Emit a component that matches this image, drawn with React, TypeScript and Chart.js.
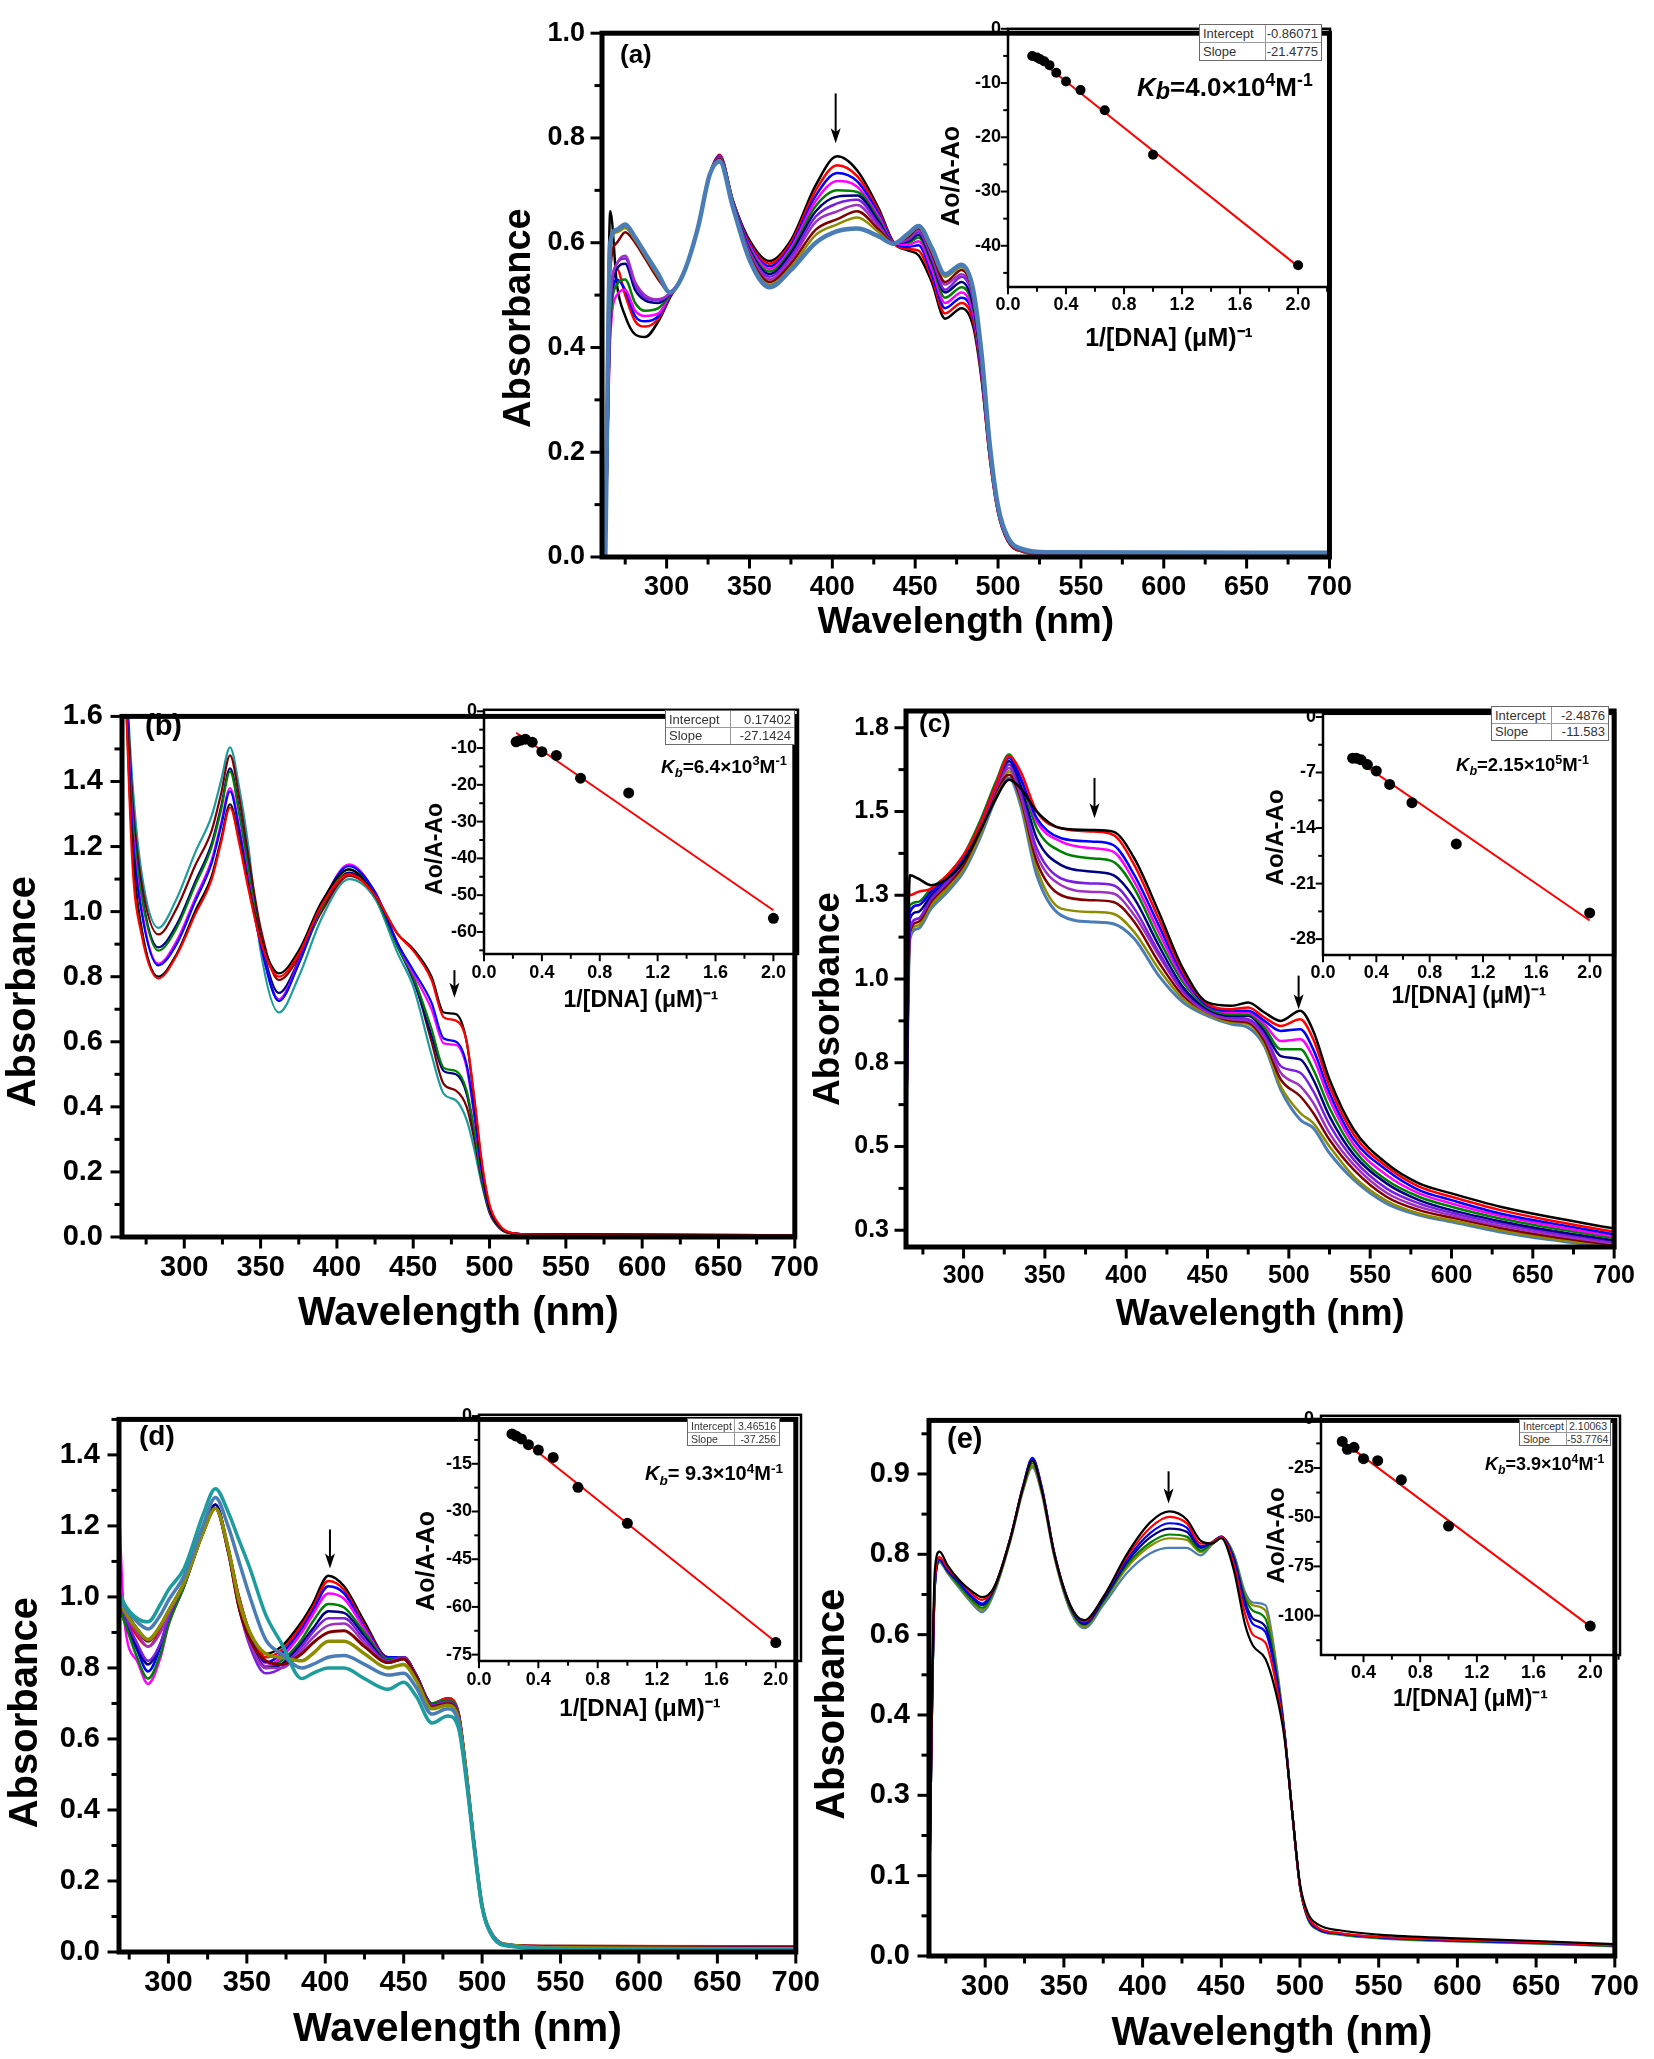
import React, { useEffect, useRef } from 'react';
import { Chart, registerables } from 'chart.js';

Chart.register(...registerables);

const FONT = "'Liberation Sans', Arial, Helvetica, sans-serif";

// ---------- colours ----------
const K_BLACK = '#000000';
const K_RED = '#ff0000';
const K_BLUE = '#0000ff';
const K_MAGENTA = '#ff00ff';
const K_GREEN = '#008000';
const K_NAVY = '#000080';
const K_VIOLET = '#7a1fe0';
const K_PURPLE = '#a030c0';
const K_WINE = '#800000';
const K_OLIVE = '#8c8c00';
const K_STEEL = '#4a7db5';
const K_TEAL = '#1c9c9c';

// ---------- shared tick definitions ----------
const WL_TICKS = [300, 350, 400, 450, 500, 550, 600, 650, 700];
const WL_LABELS = ['300', '350', '400', '450', '500', '550', '600', '650', '700'];
const ABS_TICKS_A = [0, 0.2, 0.4, 0.6, 0.8, 1.0];
const ABS_LABELS_A = ['0.0', '0.2', '0.4', '0.6', '0.8', '1.0'];
const ABS_TICKS_B = [0, 0.2, 0.4, 0.6, 0.8, 1.0, 1.2, 1.4, 1.6];
const ABS_LABELS_B = ['0.0', '0.2', '0.4', '0.6', '0.8', '1.0', '1.2', '1.4', '1.6'];
const ABS_TICKS_C = [0.25, 0.5, 0.75, 1.0, 1.25, 1.5, 1.75];
const ABS_LABELS_C = ['0.3', '0.5', '0.8', '1.0', '1.3', '1.5', '1.8'];
const ABS_TICKS_D = [0, 0.2, 0.4, 0.6, 0.8, 1.0, 1.2, 1.4];
const ABS_LABELS_D = ['0.0', '0.2', '0.4', '0.6', '0.8', '1.0', '1.2', '1.4'];
const ABS_TICKS_E = [0, 0.15, 0.3, 0.45, 0.6, 0.75, 0.9];
const ABS_LABELS_E = ['0.0', '0.1', '0.3', '0.4', '0.6', '0.8', '0.9'];

const INV_TICKS = [0, 0.4, 0.8, 1.2, 1.6, 2.0];
const INV_LABELS = ['0.0', '0.4', '0.8', '1.2', '1.6', '2.0'];
const INV_TICKS_E = [0.4, 0.8, 1.2, 1.6, 2.0];
const INV_LABELS_E = ['0.4', '0.8', '1.2', '1.6', '2.0'];
const RATIO_TICKS_A = [-40, -30, -20, -10, 0];
const RATIO_LABELS_A = ['-40', '-30', '-20', '-10', '0'];
const RATIO_TICKS_B = [-60, -50, -40, -30, -20, -10, 0];
const RATIO_LABELS_B = ['-60', '-50', '-40', '-30', '-20', '-10', '0'];
const RATIO_TICKS_C = [-28, -21, -14, -7, 0];
const RATIO_LABELS_C = ['-28', '-21', '-14', '-7', '0'];
const RATIO_TICKS_D = [-75, -60, -45, -30, -15, 0];
const RATIO_LABELS_D = ['-75', '-60', '-45', '-30', '-15', '0'];
const RATIO_TICKS_E = [-100, -75, -50, -25, 0];
const RATIO_LABELS_E = ['-100', '-75', '-50', '-25', '0'];

// ---------- panel (a) spectra ----------
const A_WL = [263, 266, 270, 275, 281, 287, 295, 302, 310, 319, 326, 332, 340, 350, 362, 375, 390, 403, 415, 428, 437, 446, 452, 460, 468, 478, 485, 490, 495, 500, 506, 515, 530, 700];
const A_BLACK = [0, 0.66, 0.52, 0.46, 0.425, 0.42, 0.45, 0.495, 0.54, 0.63, 0.73, 0.765, 0.68, 0.605, 0.565, 0.605, 0.71, 0.765, 0.738, 0.665, 0.6, 0.585, 0.576, 0.525, 0.455, 0.475, 0.44, 0.34, 0.19, 0.085, 0.03, 0.01, 0.004, 0.002];
const A_RED = [0, 0.5, 0.55, 0.5, 0.45, 0.44, 0.455, 0.497, 0.54, 0.63, 0.73, 0.768, 0.68, 0.6, 0.56, 0.6, 0.7, 0.748, 0.727, 0.66, 0.6, 0.588, 0.585, 0.532, 0.465, 0.485, 0.45, 0.345, 0.19, 0.085, 0.03, 0.01, 0.004, 0.002];
const A_BLUE = [0, 0.45, 0.53, 0.51, 0.46, 0.45, 0.46, 0.498, 0.54, 0.63, 0.73, 0.766, 0.68, 0.597, 0.555, 0.595, 0.69, 0.733, 0.717, 0.655, 0.6, 0.592, 0.595, 0.54, 0.475, 0.495, 0.46, 0.35, 0.195, 0.088, 0.032, 0.012, 0.006, 0.004];
const A_MAGENTA = [0, 0.42, 0.5, 0.51, 0.47, 0.46, 0.465, 0.5, 0.54, 0.63, 0.73, 0.765, 0.678, 0.594, 0.55, 0.59, 0.68, 0.718, 0.707, 0.65, 0.6, 0.596, 0.603, 0.55, 0.485, 0.505, 0.465, 0.355, 0.2, 0.09, 0.033, 0.012, 0.005, 0.001];
const A_GREEN = [0, 0.44, 0.52, 0.53, 0.485, 0.47, 0.475, 0.5, 0.54, 0.63, 0.73, 0.765, 0.678, 0.59, 0.545, 0.585, 0.67, 0.7, 0.697, 0.645, 0.6, 0.6, 0.61, 0.56, 0.495, 0.515, 0.475, 0.36, 0.2, 0.09, 0.033, 0.012, 0.006, 0.004];
const A_NAVY = [0, 0.46, 0.55, 0.56, 0.51, 0.49, 0.485, 0.502, 0.54, 0.63, 0.73, 0.763, 0.676, 0.587, 0.54, 0.58, 0.66, 0.688, 0.69, 0.64, 0.6, 0.603, 0.615, 0.565, 0.505, 0.525, 0.48, 0.365, 0.205, 0.092, 0.034, 0.013, 0.007, 0.005];
const A_VIOLET = [0, 0.47, 0.56, 0.57, 0.52, 0.495, 0.49, 0.503, 0.54, 0.63, 0.73, 0.763, 0.675, 0.584, 0.535, 0.573, 0.65, 0.675, 0.682, 0.635, 0.6, 0.606, 0.62, 0.57, 0.51, 0.535, 0.49, 0.37, 0.205, 0.092, 0.034, 0.013, 0.006, 0.004];
const A_PURPLE = [0, 0.48, 0.56, 0.575, 0.525, 0.5, 0.492, 0.504, 0.54, 0.63, 0.73, 0.76, 0.673, 0.58, 0.53, 0.567, 0.64, 0.66, 0.672, 0.63, 0.6, 0.609, 0.625, 0.575, 0.52, 0.54, 0.495, 0.375, 0.21, 0.094, 0.035, 0.013, 0.006, 0.005];
const A_WINE = [0, 0.55, 0.6, 0.62, 0.6, 0.57, 0.53, 0.505, 0.54, 0.63, 0.73, 0.76, 0.672, 0.576, 0.525, 0.56, 0.625, 0.645, 0.66, 0.625, 0.6, 0.612, 0.628, 0.58, 0.525, 0.548, 0.5, 0.38, 0.21, 0.095, 0.036, 0.014, 0.007, 0.006];
const A_OLIVE = [0, 0.6, 0.62, 0.628, 0.605, 0.575, 0.535, 0.505, 0.54, 0.63, 0.73, 0.758, 0.67, 0.572, 0.52, 0.553, 0.615, 0.635, 0.648, 0.62, 0.598, 0.615, 0.63, 0.585, 0.535, 0.553, 0.505, 0.385, 0.215, 0.097, 0.036, 0.014, 0.008, 0.007];
const A_STEEL = [0, 0.6, 0.625, 0.635, 0.61, 0.58, 0.54, 0.505, 0.54, 0.63, 0.73, 0.755, 0.668, 0.568, 0.515, 0.548, 0.6, 0.622, 0.627, 0.612, 0.598, 0.618, 0.632, 0.59, 0.54, 0.558, 0.51, 0.39, 0.215, 0.097, 0.037, 0.015, 0.009, 0.008];

// ---------- panel (b) spectra ----------
const B_WL = [261, 266, 272, 283, 295, 307, 318, 324, 330, 336, 342, 350, 362, 375, 390, 408, 425, 440, 450, 462, 470, 478, 485, 490, 495, 500, 506, 512, 525, 700];
const B_BLACK = [1.75, 1.2, 0.95, 0.8, 0.87, 1.0, 1.11, 1.22, 1.33, 1.22, 1.08, 0.92, 0.81, 0.88, 1.03, 1.13, 1.05, 0.93, 0.885, 0.8, 0.69, 0.685, 0.6, 0.42, 0.22, 0.09, 0.035, 0.015, 0.008, 0.005];
const B_RED = [1.75, 1.15, 0.93, 0.795, 0.865, 0.99, 1.1, 1.21, 1.32, 1.21, 1.07, 0.91, 0.8, 0.87, 1.02, 1.115, 1.05, 0.93, 0.88, 0.79, 0.675, 0.665, 0.6, 0.43, 0.23, 0.1, 0.04, 0.016, 0.008, 0.004];
const B_BLUE = [1.8, 1.25, 1.0, 0.835, 0.9, 1.03, 1.15, 1.26, 1.37, 1.25, 1.09, 0.9, 0.725, 0.84, 1.02, 1.14, 1.06, 0.9, 0.82, 0.72, 0.61, 0.6, 0.53, 0.38, 0.2, 0.085, 0.035, 0.015, 0.008, 0.005];
const B_MAGENTA = [1.8, 1.27, 1.01, 0.84, 0.91, 1.04, 1.16, 1.27, 1.38, 1.26, 1.1, 0.9, 0.73, 0.845, 1.02, 1.145, 1.06, 0.9, 0.81, 0.7, 0.595, 0.59, 0.52, 0.37, 0.2, 0.085, 0.035, 0.015, 0.008, 0.006];
const B_GREEN = [1.8, 1.3, 1.05, 0.88, 0.95, 1.08, 1.2, 1.31, 1.43, 1.3, 1.13, 0.91, 0.73, 0.84, 1.01, 1.13, 1.05, 0.89, 0.8, 0.64, 0.52, 0.51, 0.45, 0.33, 0.18, 0.08, 0.033, 0.014, 0.008, 0.006];
const B_NAVY = [1.8, 1.32, 1.06, 0.89, 0.96, 1.09, 1.21, 1.32, 1.44, 1.31, 1.14, 0.92, 0.75, 0.85, 1.01, 1.12, 1.05, 0.89, 0.79, 0.62, 0.51, 0.5, 0.44, 0.32, 0.18, 0.08, 0.033, 0.014, 0.008, 0.006];
const B_WINE = [1.8, 1.35, 1.09, 0.93, 1.01, 1.14, 1.25, 1.36, 1.48, 1.35, 1.17, 0.95, 0.79, 0.86, 1.0, 1.11, 1.05, 0.9, 0.8, 0.6, 0.47, 0.45, 0.4, 0.3, 0.17, 0.075, 0.03, 0.013, 0.008, 0.006];
const B_TEAL = [1.8, 1.4, 1.12, 0.95, 1.04, 1.18, 1.295, 1.4, 1.505, 1.38, 1.2, 0.88, 0.69, 0.8, 0.98, 1.1, 1.04, 0.87, 0.77, 0.56, 0.44, 0.42, 0.36, 0.27, 0.16, 0.075, 0.03, 0.013, 0.008, 0.006];

// ---------- panel (c) spectra ----------
const C_WL = [264, 267, 272, 280, 290, 300, 310, 320, 328, 335, 345, 360, 380, 392, 405, 420, 435, 450, 465, 475, 485, 495, 507, 515, 525, 540, 560, 580, 600, 630, 660, 700];
const C_BLACK = [0.3, 1.31, 1.3, 1.28, 1.3, 1.35, 1.44, 1.54, 1.595, 1.57, 1.5, 1.45, 1.445, 1.44, 1.36, 1.2, 1.03, 0.93, 0.92, 0.93, 0.9, 0.875, 0.905, 0.845, 0.7, 0.55, 0.45, 0.39, 0.36, 0.32, 0.29, 0.255];
const C_RED = [1.35, 1.25, 1.26, 1.27, 1.31, 1.37, 1.46, 1.58, 1.665, 1.62, 1.5, 1.45, 1.44, 1.43, 1.34, 1.18, 1.02, 0.925, 0.91, 0.915, 0.885, 0.86, 0.88, 0.82, 0.68, 0.535, 0.44, 0.38, 0.35, 0.31, 0.28, 0.245];
const C_BLUE = [0.3, 1.2, 1.22, 1.26, 1.3, 1.36, 1.46, 1.58, 1.66, 1.6, 1.48, 1.42, 1.41, 1.4, 1.31, 1.16, 1.01, 0.92, 0.905, 0.905, 0.875, 0.845, 0.85, 0.79, 0.66, 0.52, 0.43, 0.37, 0.34, 0.3, 0.272, 0.238];
const C_MAGENTA = [0.3, 1.2, 1.22, 1.26, 1.3, 1.36, 1.46, 1.58, 1.665, 1.6, 1.47, 1.41, 1.39, 1.38, 1.29, 1.14, 1.0, 0.92, 0.9, 0.9, 0.865, 0.815, 0.82, 0.765, 0.64, 0.505, 0.415, 0.36, 0.33, 0.293, 0.265, 0.232];
const C_GREEN = [0.3, 1.22, 1.23, 1.27, 1.31, 1.37, 1.47, 1.59, 1.67, 1.6, 1.45, 1.38, 1.36, 1.35, 1.27, 1.12, 0.99, 0.915, 0.895, 0.895, 0.855, 0.79, 0.79, 0.73, 0.615, 0.49, 0.4, 0.35, 0.32, 0.285, 0.258, 0.226];
const C_NAVY = [0.3, 1.18, 1.2, 1.25, 1.3, 1.36, 1.46, 1.58, 1.65, 1.58, 1.42, 1.34, 1.32, 1.31, 1.24, 1.1, 0.975, 0.91, 0.89, 0.89, 0.845, 0.77, 0.76, 0.7, 0.59, 0.475, 0.39, 0.34, 0.31, 0.277, 0.25, 0.22];
const C_VIOLET = [0.3, 1.15, 1.18, 1.24, 1.29, 1.35, 1.45, 1.57, 1.64, 1.56, 1.39, 1.3, 1.285, 1.28, 1.21, 1.08, 0.965, 0.905, 0.885, 0.88, 0.835, 0.74, 0.72, 0.665, 0.565, 0.46, 0.375, 0.33, 0.302, 0.27, 0.244, 0.215];
const C_PURPLE = [0.3, 1.15, 1.18, 1.24, 1.29, 1.35, 1.45, 1.57, 1.63, 1.55, 1.37, 1.28, 1.26, 1.255, 1.19, 1.07, 0.96, 0.9, 0.88, 0.875, 0.825, 0.72, 0.68, 0.63, 0.54, 0.445, 0.362, 0.32, 0.295, 0.263, 0.238, 0.21];
const C_WINE = [0.3, 1.14, 1.17, 1.23, 1.28, 1.34, 1.44, 1.56, 1.61, 1.54, 1.35, 1.25, 1.235, 1.23, 1.17, 1.05, 0.95, 0.9, 0.875, 0.87, 0.815, 0.7, 0.65, 0.6, 0.52, 0.43, 0.35, 0.31, 0.288, 0.257, 0.232, 0.206];
const C_OLIVE = [0.3, 1.13, 1.16, 1.22, 1.27, 1.33, 1.43, 1.55, 1.62, 1.53, 1.33, 1.21, 1.2, 1.195, 1.14, 1.03, 0.94, 0.895, 0.87, 0.865, 0.805, 0.68, 0.6, 0.57, 0.5, 0.41, 0.338, 0.3, 0.28, 0.25, 0.226, 0.202];
const C_STEEL = [0.3, 1.12, 1.15, 1.21, 1.26, 1.32, 1.42, 1.54, 1.6, 1.52, 1.31, 1.19, 1.17, 1.165, 1.12, 1.01, 0.93, 0.89, 0.865, 0.855, 0.8, 0.67, 0.58, 0.555, 0.48, 0.4, 0.33, 0.295, 0.275, 0.245, 0.222, 0.198];

// ---------- panel (d) spectra ----------
const D_WL = [268, 272, 280, 287, 295, 300, 310, 322, 330, 338, 345, 352, 362, 372, 385, 392, 402, 412, 425, 440, 450, 458, 468, 478, 485, 490, 495, 500, 507, 518, 550, 700];
const D_BLACK = [1.02, 0.97, 0.91, 0.88, 0.92, 0.96, 1.04, 1.18, 1.25, 1.14, 1.0, 0.9, 0.84, 0.86, 0.93, 0.98, 1.06, 1.03, 0.93, 0.83, 0.83, 0.78, 0.7, 0.715, 0.67, 0.5, 0.3, 0.13, 0.045, 0.02, 0.017, 0.015];
const D_RED = [1.0, 0.95, 0.89, 0.86, 0.91, 0.96, 1.04, 1.18, 1.25, 1.14, 1.0, 0.9, 0.83, 0.85, 0.92, 0.97, 1.045, 1.02, 0.92, 0.83, 0.83, 0.78, 0.7, 0.715, 0.675, 0.51, 0.3, 0.13, 0.045, 0.02, 0.017, 0.016];
const D_BLUE = [0.98, 0.93, 0.85, 0.79, 0.86, 0.93, 1.03, 1.18, 1.26, 1.14, 0.99, 0.89, 0.815, 0.84, 0.91, 0.96, 1.03, 1.01, 0.915, 0.83, 0.83, 0.78, 0.7, 0.71, 0.67, 0.5, 0.3, 0.13, 0.045, 0.02, 0.015, 0.012];
const D_MAGENTA = [1.3, 0.93, 0.82, 0.755, 0.83, 0.92, 1.03, 1.18, 1.25, 1.13, 0.98, 0.88, 0.805, 0.83, 0.9, 0.95, 1.01, 0.995, 0.91, 0.825, 0.83, 0.78, 0.7, 0.71, 0.67, 0.5, 0.3, 0.13, 0.045, 0.02, 0.014, 0.01];
const D_GREEN = [0.98, 0.93, 0.83, 0.77, 0.84, 0.92, 1.03, 1.18, 1.25, 1.13, 0.98, 0.88, 0.8, 0.82, 0.88, 0.93, 0.98, 0.97, 0.9, 0.825, 0.83, 0.78, 0.7, 0.71, 0.67, 0.5, 0.3, 0.13, 0.045, 0.02, 0.013, 0.009];
const D_NAVY = [1.0, 0.95, 0.86, 0.81, 0.87, 0.94, 1.04, 1.18, 1.26, 1.14, 0.99, 0.88, 0.8, 0.81, 0.87, 0.91, 0.96, 0.955, 0.89, 0.82, 0.83, 0.78, 0.695, 0.705, 0.665, 0.5, 0.3, 0.13, 0.045, 0.02, 0.012, 0.008];
const D_VIOLET = [1.0, 0.95, 0.87, 0.82, 0.87, 0.94, 1.04, 1.18, 1.25, 1.13, 0.97, 0.86, 0.785, 0.8, 0.86, 0.9, 0.94, 0.94, 0.88, 0.82, 0.83, 0.78, 0.695, 0.705, 0.665, 0.5, 0.3, 0.13, 0.045, 0.02, 0.012, 0.008];
const D_PURPLE = [1.0, 0.96, 0.9, 0.86, 0.9, 0.95, 1.04, 1.18, 1.25, 1.13, 0.97, 0.87, 0.8, 0.8, 0.85, 0.885, 0.92, 0.925, 0.87, 0.815, 0.825, 0.775, 0.69, 0.7, 0.66, 0.5, 0.3, 0.13, 0.045, 0.02, 0.012, 0.008];
const D_WINE = [1.0, 0.96, 0.91, 0.875, 0.92, 0.96, 1.04, 1.18, 1.25, 1.13, 0.97, 0.88, 0.82, 0.81, 0.84, 0.87, 0.9, 0.905, 0.86, 0.815, 0.825, 0.775, 0.69, 0.7, 0.66, 0.5, 0.3, 0.13, 0.045, 0.02, 0.014, 0.012];
const D_OLIVE = [1.0, 0.96, 0.91, 0.88, 0.92, 0.96, 1.04, 1.18, 1.25, 1.14, 0.99, 0.9, 0.84, 0.83, 0.82, 0.84, 0.875, 0.875, 0.84, 0.8, 0.81, 0.765, 0.685, 0.695, 0.655, 0.5, 0.3, 0.13, 0.045, 0.02, 0.012, 0.009];
const D_STEEL = [1.0, 0.97, 0.93, 0.91, 0.95, 0.99, 1.06, 1.2, 1.28, 1.2, 1.1, 1.0, 0.88, 0.84, 0.8, 0.81, 0.83, 0.835, 0.81, 0.78, 0.785, 0.745, 0.67, 0.685, 0.645, 0.49, 0.3, 0.13, 0.045, 0.018, 0.01, 0.006];
const D_TEAL = [1.02, 0.98, 0.94, 0.93, 0.98, 1.02, 1.08, 1.23, 1.305, 1.24, 1.16, 1.08, 0.95, 0.87, 0.77, 0.785, 0.8, 0.8, 0.77, 0.74, 0.76, 0.72, 0.645, 0.665, 0.63, 0.48, 0.29, 0.125, 0.04, 0.016, 0.008, 0.005];

// ---------- panel (e) spectra ----------
const E_WL = [264, 266, 268, 271, 276, 284, 292, 298, 306, 316, 324, 330, 336, 344, 354, 363, 375, 390, 405, 417, 428, 437, 444, 450, 458, 465, 470, 478, 484, 490, 495, 500, 505, 512, 525, 550, 600, 650, 700];
const E_BLACK = [0, 0.45, 0.72, 0.755, 0.73, 0.7, 0.68, 0.67, 0.69, 0.78, 0.875, 0.925, 0.87, 0.75, 0.655, 0.627, 0.67, 0.75, 0.81, 0.83, 0.815, 0.775, 0.77, 0.78, 0.72, 0.62, 0.58, 0.555, 0.5, 0.41, 0.27, 0.135, 0.08, 0.058, 0.048, 0.04, 0.033, 0.028, 0.022];
const E_RED = [0, 0.43, 0.7, 0.745, 0.725, 0.7, 0.675, 0.665, 0.69, 0.78, 0.875, 0.925, 0.87, 0.75, 0.655, 0.625, 0.67, 0.745, 0.8, 0.82, 0.808, 0.77, 0.772, 0.782, 0.73, 0.64, 0.6, 0.585, 0.52, 0.415, 0.27, 0.13, 0.075, 0.052, 0.043, 0.036, 0.03, 0.026, 0.02];
const E_BLUE = [0, 0.42, 0.69, 0.74, 0.72, 0.695, 0.67, 0.658, 0.69, 0.78, 0.877, 0.93, 0.875, 0.752, 0.655, 0.622, 0.668, 0.74, 0.79, 0.808, 0.8, 0.765, 0.772, 0.783, 0.738, 0.655, 0.62, 0.605, 0.535, 0.42, 0.27, 0.13, 0.072, 0.05, 0.042, 0.035, 0.029, 0.025, 0.02];
const E_NAVY = [0, 0.42, 0.69, 0.74, 0.72, 0.695, 0.668, 0.655, 0.688, 0.78, 0.876, 0.928, 0.873, 0.75, 0.653, 0.62, 0.665, 0.735, 0.782, 0.798, 0.792, 0.762, 0.772, 0.783, 0.742, 0.662, 0.63, 0.615, 0.54, 0.42, 0.27, 0.13, 0.072, 0.05, 0.042, 0.035, 0.029, 0.025, 0.02];
const E_GREEN = [0, 0.42, 0.69, 0.738, 0.718, 0.69, 0.663, 0.65, 0.685, 0.778, 0.872, 0.92, 0.868, 0.748, 0.65, 0.618, 0.662, 0.73, 0.772, 0.787, 0.783, 0.757, 0.77, 0.782, 0.745, 0.67, 0.645, 0.63, 0.55, 0.42, 0.27, 0.13, 0.07, 0.049, 0.041, 0.034, 0.028, 0.024, 0.019];
const E_OLIVE = [0, 0.42, 0.69, 0.737, 0.717, 0.688, 0.66, 0.646, 0.683, 0.776, 0.87, 0.915, 0.865, 0.746, 0.648, 0.615, 0.66, 0.725, 0.766, 0.78, 0.777, 0.754, 0.769, 0.782, 0.748, 0.675, 0.655, 0.645, 0.56, 0.42, 0.27, 0.13, 0.07, 0.049, 0.041, 0.034, 0.028, 0.024, 0.019];
const E_STEEL = [0, 0.42, 0.69, 0.735, 0.715, 0.685, 0.657, 0.642, 0.68, 0.775, 0.868, 0.912, 0.862, 0.744, 0.645, 0.612, 0.655, 0.715, 0.752, 0.762, 0.762, 0.748, 0.768, 0.782, 0.75, 0.68, 0.66, 0.655, 0.565, 0.425, 0.27, 0.13, 0.07, 0.048, 0.04, 0.033, 0.027, 0.023, 0.018];

// ---------- arrows (data coordinates) ----------
const A_ARROWS = [{ x: 402, y1: 0.885, y2: 0.79 }];
const B_ARROWS = [{ x: 477, y1: 0.82, y2: 0.735 }];
const C_ARROWS = [{ x: 380.5, y1: 1.6, y2: 1.48 }, { x: 506, y1: 1.01, y2: 0.91 }];
const D_ARROWS = [{ x: 403, y1: 1.19, y2: 1.08 }];
const E_ARROWS = [{ x: 416.5, y1: 0.905, y2: 0.845 }];

// ---------- inset data: 1/[DNA] vs Ao/(A-Ao) ----------
const A_INV = [0.167, 0.2, 0.222, 0.25, 0.286, 0.333, 0.4, 0.5, 0.667, 1.0, 2.0];
const A_RATIO = [-5.0, -5.3, -5.6, -6.0, -6.7, -8.1, -9.7, -11.3, -15.0, -23.2, -43.6];
const A_FIT_X = [0.16, 2.0];
const A_FIT_Y = [-4.6, -43.8];

const B_INV = [0.222, 0.25, 0.286, 0.333, 0.4, 0.5, 0.667, 1.0, 2.0];
const B_RATIO = [-8.3, -7.9, -7.6, -8.4, -11.0, -12.0, -18.2, -22.2, -56.3];
const B_FIT_X = [0.222, 2.0];
const B_FIT_Y = [-5.85, -54.1];

const C_INV = [0.222, 0.25, 0.286, 0.333, 0.4, 0.5, 0.667, 1.0, 2.0];
const C_RATIO = [-5.2, -5.2, -5.4, -6.0, -6.8, -8.5, -10.8, -16.0, -24.7];
const C_FIT_X = [0.222, 2.0];
const C_FIT_Y = [-5.06, -25.65];

const D_INV = [0.222, 0.25, 0.286, 0.333, 0.4, 0.5, 0.667, 1.0, 2.0];
const D_RATIO = [-5.6, -6.3, -7.2, -9.0, -10.7, -13.0, -22.4, -33.7, -71.2];
const D_FIT_X = [0.21, 2.0];
const D_FIT_Y = [-4.36, -71.05];

const E_INV = [0.25, 0.286, 0.333, 0.4, 0.5, 0.667, 1.0, 2.0];
const E_RATIO = [-11.5, -15.5, -14.5, -20.3, -21.3, -31.0, -54.5, -105.3];
const E_FIT_X = [0.25, 2.0];
const E_FIT_Y = [-11.34, -105.45];

// ---------- helpers ----------
function minorValues(min: number, max: number, step: number, majors: number[]) {
  const out: number[] = [];
  const k0 = Math.ceil(min / step - 1e-6);
  const k1 = Math.floor(max / step + 1e-6);
  for (let k = k0; k <= k1; k++) {
    const v = k * step;
    if (!majors.some((m) => Math.abs(m - v) < step * 0.01)) out.push(v);
  }
  return out;
}

const decorPlugin = {
  id: 'decor',
  afterDatasetsDraw(chart: any, _args: any, o: any) {
    const { ctx, chartArea: a } = chart;
    const xs = chart.scales.x;
    const ys = chart.scales.y;
    ctx.save();
    ctx.strokeStyle = '#000';
    ctx.fillStyle = '#000';
    ctx.lineCap = 'butt';
    (o.arrows || []).forEach((ar: any) => {
      const px = xs.getPixelForValue(ar.x);
      const p1 = ys.getPixelForValue(ar.y1);
      const p2 = ys.getPixelForValue(ar.y2);
      ctx.lineWidth = o.arrowWidth;
      ctx.beginPath();
      ctx.moveTo(px, p1);
      ctx.lineTo(px, p2 - o.headLen * 0.6);
      ctx.stroke();
      ctx.beginPath();
      ctx.moveTo(px, p2);
      ctx.lineTo(px - o.headW, p2 - o.headLen);
      ctx.lineTo(px, p2 - o.headLen * 0.75);
      ctx.lineTo(px + o.headW, p2 - o.headLen);
      ctx.closePath();
      ctx.fill();
    });
    const half = o.frameWidth / 2;
    ctx.lineWidth = o.tickWidth;
    const xt = (v: number, len: number) => {
      const p = xs.getPixelForValue(v);
      ctx.beginPath();
      ctx.moveTo(p, a.bottom);
      ctx.lineTo(p, a.bottom + half + len);
      ctx.stroke();
    };
    const yt = (v: number, len: number) => {
      const p = ys.getPixelForValue(v);
      ctx.beginPath();
      ctx.moveTo(a.left, p);
      ctx.lineTo(a.left - half - len, p);
      ctx.stroke();
    };
    o.xMajor.forEach((v: number) => xt(v, o.majorLen));
    minorValues(xs.min, xs.max, o.xMinorStep, o.xMajor).forEach((v) => xt(v, o.minorLen));
    o.yMajor.forEach((v: number) => yt(v, o.majorLen));
    minorValues(ys.min, ys.max, o.yMinorStep, o.yMajor).forEach((v) => yt(v, o.minorLen));
    ctx.lineWidth = o.frameWidth;
    ctx.strokeRect(a.left, a.top, a.right - a.left, a.bottom - a.top);
    if (o.yTitle) {
      ctx.save();
      ctx.translate(o.yTitleX, (a.top + a.bottom) / 2 + o.yTitleDy);
      ctx.rotate(-Math.PI / 2);
      ctx.font = `bold ${o.yTitleFont}px ${FONT}`;
      ctx.textAlign = 'center';
      ctx.textBaseline = 'middle';
      ctx.fillText(o.yTitle, 0, 0);
      ctx.restore();
    }
    ctx.restore();
  },
};

type Curve = { color: string; y: number[]; w: number };
type Arrow = { x: number; y1: number; y2: number };

type MainSpec = {
  frame: number[];
  yW: number; xH: number; padTop: number; padRight: number;
  xMin: number; xMax: number; yMin: number; yMax: number;
  yTicks: number[]; yLabels: string[]; yMinorStep: number;
  tickFont: number; xTitleFont: number; yTitleFont: number; yTitleX: number; yTitleDy: number;
  labelPadX: number; labelPadY: number;
  wl: number[]; curves: Curve[]; arrows: Arrow[];
};

type InsetSpec = {
  frame: number[];
  yW: number; xH: number; padTop: number; padRight: number;
  xMin: number; xMax: number; yMin: number; yMax: number;
  xTicks: number[]; xLabels: string[]; xMinorStep: number;
  yTicks: number[]; yLabels: string[]; yMinorStep: number;
  tickFont: number; xTitleFont: number; yTitleFont: number; yTitleX: number; yTitleDy: number;
  labelPadX: number; labelPadY: number;
  px: number[]; py: number[]; fx: number[]; fy: number[]; pointR: number;
};

function tickFontObj(size: number) {
  return { family: FONT, size, weight: 'bold' as const };
}

function MainPanel({ s }: { s: MainSpec }) {
  const ref = useRef<HTMLCanvasElement>(null);
  const [L, T, R, B] = s.frame;
  const left = L - s.yW;
  const top = T - s.padTop;
  const width = R - L + s.yW + s.padRight;
  const height = B - T + s.padTop + s.xH;
  useEffect(() => {
    const chart = new Chart(ref.current as HTMLCanvasElement, {
      type: 'line',
      data: {
        datasets: s.curves.map((c, i) => ({
          data: s.wl.map((x, k) => ({ x, y: c.y[k] })),
          borderColor: c.color,
          borderWidth: c.w,
          pointRadius: 0,
          fill: false,
          cubicInterpolationMode: 'monotone',
          order: -i,
        })),
      } as any,
      options: {
        animation: false,
        responsive: false,
        events: [],
        layout: { padding: { top: s.padTop, right: s.padRight, left: 0, bottom: 0 }, autoPadding: false },
        plugins: {
          legend: { display: false },
          tooltip: { enabled: false },
          decor: {
            arrows: s.arrows, arrowWidth: 2, headLen: 15, headW: 5,
            frameWidth: 5, tickWidth: 3, majorLen: 9, minorLen: 5,
            xMajor: WL_TICKS, xMinorStep: 25, yMajor: s.yTicks, yMinorStep: s.yMinorStep,
            yTitle: 'Absorbance', yTitleX: s.yTitleX, yTitleDy: s.yTitleDy, yTitleFont: s.yTitleFont,
          },
        } as any,
        scales: {
          x: {
            type: 'linear', min: s.xMin, max: s.xMax,
            afterBuildTicks: (sc: any) => { sc.ticks = WL_TICKS.map((v) => ({ value: v })); },
            afterFit: (sc: any) => { sc.height = s.xH; },
            ticks: { autoSkip: false, maxRotation: 0, padding: s.labelPadX, color: '#000', font: tickFontObj(s.tickFont), callback: (_v: any, i: number) => WL_LABELS[i] },
            grid: { display: false, drawTicks: false },
            border: { display: false },
            title: { display: true, text: 'Wavelength (nm)', color: '#000', padding: 0, font: { family: FONT, size: s.xTitleFont, weight: 'bold', lineHeight: 1 } },
          },
          y: {
            type: 'linear', min: s.yMin, max: s.yMax,
            afterBuildTicks: (sc: any) => { sc.ticks = s.yTicks.map((v) => ({ value: v })); },
            afterFit: (sc: any) => { sc.width = s.yW; },
            ticks: { autoSkip: false, padding: s.labelPadY, color: '#000', font: tickFontObj(s.tickFont), callback: (_v: any, i: number) => s.yLabels[i] },
            grid: { display: false, drawTicks: false },
            border: { display: false },
          },
        } as any,
      },
      plugins: [decorPlugin as any],
    });
    return () => chart.destroy();
  }, []);
  return <canvas ref={ref} width={width} height={height} style={{ position: 'absolute', left, top, width, height }} />;
}

function InsetPanel({ s }: { s: InsetSpec }) {
  const ref = useRef<HTMLCanvasElement>(null);
  const [L, T, R, B] = s.frame;
  const left = L - s.yW;
  const top = T - s.padTop;
  const width = R - L + s.yW + s.padRight;
  const height = B - T + s.padTop + s.xH;
  useEffect(() => {
    const chart = new Chart(ref.current as HTMLCanvasElement, {
      type: 'scatter',
      data: {
        datasets: [
          {
            data: s.fx.map((x, k) => ({ x, y: s.fy[k] })),
            showLine: true, borderColor: '#ff0000', borderWidth: 2, pointRadius: 0, order: 1,
          },
          {
            data: s.px.map((x, k) => ({ x, y: s.py[k] })),
            showLine: false, pointRadius: s.pointR, pointBackgroundColor: '#000', pointBorderColor: '#000', pointBorderWidth: 0, order: 0,
          },
        ],
      } as any,
      options: {
        animation: false,
        responsive: false,
        events: [],
        layout: { padding: { top: s.padTop, right: s.padRight, left: 0, bottom: 0 }, autoPadding: false },
        plugins: {
          legend: { display: false },
          tooltip: { enabled: false },
          decor: {
            arrows: [], arrowWidth: 1, headLen: 0, headW: 0,
            frameWidth: 2.5, tickWidth: 2, majorLen: 6, minorLen: 3.5,
            xMajor: s.xTicks, xMinorStep: s.xMinorStep, yMajor: s.yTicks, yMinorStep: s.yMinorStep,
            yTitle: 'Ao/A-Ao', yTitleX: s.yTitleX, yTitleDy: s.yTitleDy, yTitleFont: s.yTitleFont,
          },
        } as any,
        scales: {
          x: {
            type: 'linear', min: s.xMin, max: s.xMax,
            afterBuildTicks: (sc: any) => { sc.ticks = s.xTicks.map((v) => ({ value: v })); },
            afterFit: (sc: any) => { sc.height = s.xH; },
            ticks: { autoSkip: false, maxRotation: 0, padding: s.labelPadX, color: '#000', font: tickFontObj(s.tickFont), callback: (_v: any, i: number) => s.xLabels[i] },
            grid: { display: false, drawTicks: false },
            border: { display: false },
            title: { display: true, text: '1/[DNA] (\u03bcM)\u207b\u00b9', color: '#000', padding: 0, font: { family: FONT, size: s.xTitleFont, weight: 'bold', lineHeight: 1 } },
          },
          y: {
            type: 'linear', min: s.yMin, max: s.yMax,
            afterBuildTicks: (sc: any) => { sc.ticks = s.yTicks.map((v) => ({ value: v })); },
            afterFit: (sc: any) => { sc.width = s.yW; },
            ticks: { autoSkip: false, padding: s.labelPadY, color: '#000', font: tickFontObj(s.tickFont), callback: (_v: any, i: number) => s.yLabels[i] },
            grid: { display: false, drawTicks: false },
            border: { display: false },
          },
        } as any,
      },
      plugins: [decorPlugin as any],
    });
    return () => chart.destroy();
  }, []);
  return <canvas ref={ref} width={width} height={height} style={{ position: 'absolute', left, top, width, height }} />;
}

// ---------- panel specs ----------
const SPEC_A: MainSpec = {
  frame: [602, 17, 1336, 557], yW: 106, xH: 84, padTop: 17, padRight: 30,
  xMin: 261, xMax: 700, yMin: 0, yMax: 1.0,
  yTicks: ABS_TICKS_A, yLabels: ABS_LABELS_A, yMinorStep: 0.1,
  tickFont: 27, xTitleFont: 37, yTitleFont: 38, yTitleX: 24, yTitleDy: 23, labelPadX: 14, labelPadY: 17,
  wl: A_WL,
  curves: [
    { color: K_BLACK, y: A_BLACK, w: 2.5 }, { color: K_RED, y: A_RED, w: 2.5 }, { color: K_BLUE, y: A_BLUE, w: 2.5 },
    { color: K_MAGENTA, y: A_MAGENTA, w: 2.5 }, { color: K_GREEN, y: A_GREEN, w: 2.5 }, { color: K_NAVY, y: A_NAVY, w: 2.5 },
    { color: K_VIOLET, y: A_VIOLET, w: 2.5 }, { color: K_PURPLE, y: A_PURPLE, w: 2.5 }, { color: K_WINE, y: A_WINE, w: 2.5 },
    { color: K_OLIVE, y: A_OLIVE, w: 2.5 }, { color: K_STEEL, y: A_STEEL, w: 4.5 },
  ],
  arrows: A_ARROWS,
};

const SPEC_B: MainSpec = {
  frame: [122, 700, 803, 1237], yW: 120, xH: 97, padTop: 20, padRight: 30,
  xMin: 259.2, xMax: 700, yMin: 0, yMax: 1.6,
  yTicks: ABS_TICKS_B, yLabels: ABS_LABELS_B, yMinorStep: 0.1,
  tickFont: 29, xTitleFont: 40, yTitleFont: 40, yTitleX: 22, yTitleDy: 15, labelPadX: 14, labelPadY: 19,
  wl: B_WL,
  curves: [
    { color: K_TEAL, y: B_TEAL, w: 2.2 }, { color: K_WINE, y: B_WINE, w: 2.2 }, { color: K_NAVY, y: B_NAVY, w: 2.2 },
    { color: K_GREEN, y: B_GREEN, w: 2.2 }, { color: K_MAGENTA, y: B_MAGENTA, w: 2.2 }, { color: K_BLUE, y: B_BLUE, w: 2.2 },
    { color: K_BLACK, y: B_BLACK, w: 2.2 }, { color: K_RED, y: B_RED, w: 2.2 },
  ],
  arrows: B_ARROWS,
};

const SPEC_C: MainSpec = {
  frame: [906, 699, 1619, 1247], yW: 101, xH: 86, padTop: 20, padRight: 30,
  xMin: 264.6, xMax: 700, yMin: 0.2, yMax: 1.8,
  yTicks: ABS_TICKS_C, yLabels: ABS_LABELS_C, yMinorStep: 0.125,
  tickFont: 25, xTitleFont: 36, yTitleFont: 37, yTitleX: 24, yTitleDy: 20, labelPadX: 14, labelPadY: 17,
  wl: C_WL,
  curves: [
    { color: K_STEEL, y: C_STEEL, w: 3 }, { color: K_OLIVE, y: C_OLIVE, w: 2.5 }, { color: K_WINE, y: C_WINE, w: 2.5 },
    { color: K_PURPLE, y: C_PURPLE, w: 2.5 }, { color: K_VIOLET, y: C_VIOLET, w: 2.5 }, { color: K_NAVY, y: C_NAVY, w: 2.5 },
    { color: K_GREEN, y: C_GREEN, w: 2.5 }, { color: K_MAGENTA, y: C_MAGENTA, w: 2.5 }, { color: K_BLUE, y: C_BLUE, w: 2.5 },
    { color: K_RED, y: C_RED, w: 2.5 }, { color: K_BLACK, y: C_BLACK, w: 2.5 },
  ],
  arrows: C_ARROWS,
};

const SPEC_D: MainSpec = {
  frame: [119, 1403, 804, 1952], yW: 117, xH: 98, padTop: 20, padRight: 30,
  xMin: 268.5, xMax: 700, yMin: 0, yMax: 1.5,
  yTicks: ABS_TICKS_D, yLabels: ABS_LABELS_D, yMinorStep: 0.1,
  tickFont: 29, xTitleFont: 41, yTitleFont: 40, yTitleX: 24, yTitleDy: 27, labelPadX: 14, labelPadY: 19,
  wl: D_WL,
  curves: [
    { color: K_BLACK, y: D_BLACK, w: 2.5 }, { color: K_RED, y: D_RED, w: 2.5 }, { color: K_BLUE, y: D_BLUE, w: 2.5 },
    { color: K_MAGENTA, y: D_MAGENTA, w: 2.5 }, { color: K_GREEN, y: D_GREEN, w: 2.5 }, { color: K_NAVY, y: D_NAVY, w: 2.5 },
    { color: K_VIOLET, y: D_VIOLET, w: 2.5 }, { color: K_PURPLE, y: D_PURPLE, w: 2.5 }, { color: K_WINE, y: D_WINE, w: 3 },
    { color: K_OLIVE, y: D_OLIVE, w: 3.5 }, { color: K_STEEL, y: D_STEEL, w: 3.5 }, { color: K_TEAL, y: D_TEAL, w: 3.5 },
  ],
  arrows: D_ARROWS,
};

const SPEC_E: MainSpec = {
  frame: [929, 1404, 1625, 1956], yW: 120, xH: 98, padTop: 20, padRight: 28,
  xMin: 264.3, xMax: 700, yMin: 0, yMax: 1.0,
  yTicks: ABS_TICKS_E, yLabels: ABS_LABELS_E, yMinorStep: 0.075,
  tickFont: 29, xTitleFont: 40, yTitleFont: 40, yTitleX: 24, yTitleDy: 16, labelPadX: 14, labelPadY: 19,
  wl: E_WL,
  curves: [
    { color: K_STEEL, y: E_STEEL, w: 2.2 }, { color: K_OLIVE, y: E_OLIVE, w: 2.2 }, { color: K_GREEN, y: E_GREEN, w: 2.2 },
    { color: K_NAVY, y: E_NAVY, w: 2.2 }, { color: K_BLUE, y: E_BLUE, w: 2.2 }, { color: K_RED, y: E_RED, w: 2.2 },
    { color: K_BLACK, y: E_BLACK, w: 2.2 },
  ],
  arrows: E_ARROWS,
};

const INSET_A: InsetSpec = {
  frame: [1008, 23, 1330, 287], yW: 72, xH: 65, padTop: 12, padRight: 4,
  xMin: 0, xMax: 2.22, yMin: -47.6, yMax: 0,
  xTicks: INV_TICKS, xLabels: INV_LABELS, xMinorStep: 0.2,
  yTicks: RATIO_TICKS_A, yLabels: RATIO_LABELS_A, yMinorStep: 5,
  tickFont: 18, xTitleFont: 25, yTitleFont: 25, yTitleX: 16, yTitleDy: 18, labelPadX: 7, labelPadY: 7,
  px: A_INV, py: A_RATIO, fx: A_FIT_X, fy: A_FIT_Y, pointR: 5,
};

const INSET_B: InsetSpec = {
  frame: [484, 704, 798, 954], yW: 64, xH: 58, padTop: 12, padRight: 4,
  xMin: 0, xMax: 2.17, yMin: -66, yMax: 0.4,
  xTicks: INV_TICKS, xLabels: INV_LABELS, xMinorStep: 0.2,
  yTicks: RATIO_TICKS_B, yLabels: RATIO_LABELS_B, yMinorStep: 5,
  tickFont: 18, xTitleFont: 23, yTitleFont: 23, yTitleX: 16, yTitleDy: 17, labelPadX: 8, labelPadY: 7,
  px: B_INV, py: B_RATIO, fx: B_FIT_X, fy: B_FIT_Y, pointR: 5.5,
};

const INSET_C: InsetSpec = {
  frame: [1323, 708, 1615, 955], yW: 63, xH: 53, padTop: 12, padRight: 4,
  xMin: 0, xMax: 2.19, yMin: -30, yMax: 0.4,
  xTicks: INV_TICKS, xLabels: INV_LABELS, xMinorStep: 0.2,
  yTicks: RATIO_TICKS_C, yLabels: RATIO_LABELS_C, yMinorStep: 3.5,
  tickFont: 18, xTitleFont: 23, yTitleFont: 24, yTitleX: 16, yTitleDy: 3, labelPadX: 7, labelPadY: 7,
  px: C_INV, py: C_RATIO, fx: C_FIT_X, fy: C_FIT_Y, pointR: 5.5,
};

const INSET_D: InsetSpec = {
  frame: [479, 1409, 801, 1661], yW: 68, xH: 60, padTop: 12, padRight: 4,
  xMin: 0, xMax: 2.17, yMin: -77, yMax: 0.4,
  xTicks: INV_TICKS, xLabels: INV_LABELS, xMinorStep: 0.2,
  yTicks: RATIO_TICKS_D, yLabels: RATIO_LABELS_D, yMinorStep: 7.5,
  tickFont: 18, xTitleFont: 24, yTitleFont: 25, yTitleX: 16, yTitleDy: 23, labelPadX: 8, labelPadY: 7,
  px: D_INV, py: D_RATIO, fx: D_FIT_X, fy: D_FIT_Y, pointR: 5.5,
};

const INSET_E: InsetSpec = {
  frame: [1321, 1410, 1620, 1655], yW: 60, xH: 56, padTop: 12, padRight: 4,
  xMin: 0.1, xMax: 2.21, yMin: -120, yMax: 1.5,
  xTicks: INV_TICKS_E, xLabels: INV_LABELS_E, xMinorStep: 0.2,
  yTicks: RATIO_TICKS_E, yLabels: RATIO_LABELS_E, yMinorStep: 12.5,
  tickFont: 18, xTitleFont: 23, yTitleFont: 24, yTitleX: 16, yTitleDy: 0, labelPadX: 7, labelPadY: 7,
  px: E_INV, py: E_RATIO, fx: E_FIT_X, fy: E_FIT_Y, pointR: 5.5,
};

// ---------- overlay texts ----------
const PANEL_LABELS = [
  { text: '(a)', left: 620, cy: 54, size: 26 },
  { text: '(b)', left: 145, cy: 725, size: 29 },
  { text: '(c)', left: 919, cy: 723, size: 26 },
  { text: '(d)', left: 139, cy: 1436, size: 28 },
  { text: '(e)', left: 947, cy: 1438, size: 29 },
];

const FIT_TABLES = [
  { cols: [1199, 1265, 1322], rows: [24, 42, 61], size: 13, intercept: '-0.86071', slope: '-21.4775' },
  { cols: [665, 730, 795], rows: [710, 727, 745], size: 13, intercept: '0.17402', slope: '-27.1424' },
  { cols: [1491, 1551, 1609], rows: [706, 723, 741], size: 13, intercept: '-2.4876', slope: '-11.583' },
  { cols: [687, 734, 780], rows: [1418, 1432, 1446], size: 10.5, intercept: '3.46516', slope: '-37.256' },
  { cols: [1519, 1566, 1611], rows: [1419, 1432, 1446], size: 10.5, intercept: '2.10063', slope: '-53.7764' },
];

const KB_LABELS = [
  { left: 1137, cy: 87, size: 26, eq: '=4.0\u00d710', exp: '4', big: true },
  { left: 661, cy: 766, size: 19, eq: '=6.4\u00d710', exp: '3', big: false },
  { left: 1456, cy: 765, size: 18.5, eq: '=2.15\u00d710', exp: '5', big: false },
  { left: 645, cy: 1473, size: 20, eq: '= 9.3\u00d710', exp: '4', big: false },
  { left: 1485, cy: 1464, size: 18, eq: '=3.9\u00d710', exp: '4', big: false },
];

function FitTable({ t }: { t: (typeof FIT_TABLES)[number] }) {
  const [x0, x1, x2] = t.cols;
  const [y0, y1, y2] = t.rows;
  const cell = (l: number, tp: number, w: number, h: number, text: string, right: boolean, key: string) => (
    <div key={key} style={{
      position: 'absolute', left: l, top: tp, width: w, height: h, boxSizing: 'border-box',
      borderRight: right ? 'none' : '1px solid #9a9a9a', borderBottom: tp === 0 ? '1px solid #9a9a9a' : 'none',
      lineHeight: `${h}px`, paddingLeft: right ? 0 : 3, paddingRight: right ? 3 : 0, textAlign: right ? 'right' : 'left',
      whiteSpace: 'nowrap', overflow: 'hidden',
    }}>{text}</div>
  );
  return (
    <div style={{
      position: 'absolute', left: x0, top: y0, width: x2 - x0, height: y2 - y0, boxSizing: 'border-box',
      border: '1px solid #6a6a6a', background: '#fff', fontFamily: FONT, fontSize: t.size, color: '#333',
    }}>
      {cell(0, 0, x1 - x0, y1 - y0, 'Intercept', false, 'a')}
      {cell(x1 - x0, 0, x2 - x1 - 2, y1 - y0, t.intercept, true, 'b')}
      {cell(0, y1 - y0, x1 - x0, y2 - y1 - 2, 'Slope', false, 'c')}
      {cell(x1 - x0, y1 - y0, x2 - x1 - 2, y2 - y1 - 2, t.slope, true, 'd')}
    </div>
  );
}

function KbLabel({ k }: { k: (typeof KB_LABELS)[number] }) {
  const sup = { fontSize: '0.68em', position: 'relative' as const, top: '-0.55em', lineHeight: 0 };
  const sub = k.big
    ? { fontSize: '0.9em', fontStyle: 'italic' as const, position: 'relative' as const, top: '0.12em', lineHeight: 0 }
    : { fontSize: '0.68em', fontStyle: 'italic' as const, position: 'relative' as const, top: '0.35em', lineHeight: 0 };
  return (
    <div style={{
      position: 'absolute', left: k.left, top: k.cy - k.size / 2, fontSize: k.size, lineHeight: `${k.size}px`,
      fontFamily: FONT, fontWeight: 'bold', whiteSpace: 'nowrap', color: '#000',
    }}>
      <span style={{ fontStyle: 'italic' }}>K</span>
      <span style={sub}>b</span>
      {k.eq}
      <span style={sup}>{k.exp}</span>
      M
      <span style={sup}>-1</span>
    </div>
  );
}

export default function App() {
  return (
    <div style={{ position: 'absolute', left: 0, top: 0, width: 1654, height: 2059, background: '#fff', overflow: 'hidden' }}>
      <MainPanel s={SPEC_A} />
      <MainPanel s={SPEC_B} />
      <MainPanel s={SPEC_C} />
      <MainPanel s={SPEC_D} />
      <MainPanel s={SPEC_E} />
      <InsetPanel s={INSET_A} />
      <InsetPanel s={INSET_B} />
      <InsetPanel s={INSET_C} />
      <InsetPanel s={INSET_D} />
      <InsetPanel s={INSET_E} />
      {PANEL_LABELS.map((p) => (
        <div key={p.text} style={{
          position: 'absolute', left: p.left, top: p.cy - p.size / 2, fontSize: p.size, lineHeight: `${p.size}px`,
          fontFamily: FONT, fontWeight: 'bold', whiteSpace: 'nowrap', color: '#000',
        }}>{p.text}</div>
      ))}
      {FIT_TABLES.map((t) => <FitTable key={t.slope} t={t} />)}
      {KB_LABELS.map((k) => <KbLabel key={k.left} k={k} />)}
    </div>
  );
}
